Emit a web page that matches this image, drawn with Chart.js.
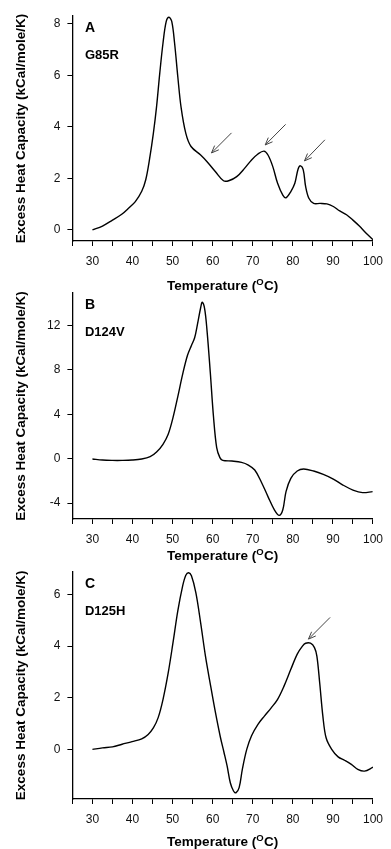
<!DOCTYPE html>
<html>
<head>
<meta charset="utf-8">
<script src="https://cdn.jsdelivr.net/npm/chart.js@4.4.0/dist/chart.umd.min.js"></script>
<style>
  body { margin: 0; background: #fff; width: 391px; height: 849px; position: relative; overflow: hidden; }
  canvas { position: absolute; left: 0; }
</style>
</head>
<body>
<canvas id="chartA" width="391" height="295" style="top:0px"></canvas>
<canvas id="chartB" width="391" height="290" style="top:277px"></canvas>
<canvas id="chartC" width="391" height="293" style="top:556px"></canvas>
<script>
// Panel A - G85R
const tempA = [30, 32.5, 35, 37.4, 39, 40.7, 42.3, 43.3, 44.2, 45.2, 46, 46.8, 47.6, 48.4, 49.1, 49.8, 50.5, 51.3, 52.1, 53.3, 54.6, 57, 58.6, 60.7, 62.7, 64, 66, 68, 69.7, 71.3, 72.8, 73.8, 75, 76.2, 77.5, 78.3, 79.5, 80.5, 81.3, 81.9, 82.6, 83.2, 84, 85.2, 86.8, 88.5, 90.1, 91.7, 93.4, 95, 96.6, 98.3, 100];
const heatA = [0, 0.15, 0.38, 0.62, 0.84, 1.1, 1.5, 1.95, 2.7, 3.75, 4.79, 6.09, 7.25, 8.09, 8.26, 8.09, 7.25, 5.95, 4.78, 3.75, 3.24, 2.91, 2.65, 2.26, 1.91, 1.91, 2.07, 2.4, 2.72, 2.95, 3.06, 2.91, 2.46, 1.81, 1.35, 1.25, 1.49, 1.81, 2.36, 2.49, 2.33, 1.68, 1.23, 1.03, 1.03, 1.01, 0.91, 0.74, 0.59, 0.38, 0.15, -0.13, -0.38];

// Panel B - D124V
const tempB = [30, 32.5, 35, 37.4, 39.9, 42.3, 44.4, 46, 47.6, 48.9, 50.1, 51.3, 52.5, 53.7, 54.7, 55.5, 56.2, 57, 57.4, 58, 58.6, 59.4, 60.2, 61, 61.8, 62.5, 64.8, 67.2, 68.9, 70.5, 72.1, 73.8, 75.4, 76.6, 77.5, 78.3, 79.5, 81.1, 82.7, 85.2, 87.6, 90.1, 92.5, 95, 97.4, 99.9];
const heatB = [-0.03, -0.12, -0.15, -0.15, -0.12, -0.03, 0.18, 0.6, 1.3, 2.2, 3.7, 5.6, 7.6, 9.3, 10.2, 10.9, 12.1, 13.6, 14.1, 13.5, 11.5, 7.8, 3.8, 1.0, 0.1, -0.15, -0.21, -0.33, -0.57, -1.02, -2.07, -3.41, -4.6, -5.1, -4.6, -2.96, -1.77, -1.11, -0.93, -1.11, -1.41, -1.83, -2.37, -2.82, -3.05, -2.96];

// Panel C - D125H
const tempC = [30, 32.5, 35, 37.4, 39.9, 42.3, 43.9, 45.2, 46.4, 47.6, 48.9, 50.1, 51.3, 52.5, 53.3, 54, 54.7, 55.8, 57, 58.2, 59.5, 60.7, 61.9, 62.8, 63.6, 64.4, 65.2, 65.8, 66.6, 67.4, 68.5, 69.7, 71.3, 72.9, 74.6, 76.2, 77.8, 79.5, 81.1, 82.4, 83.2, 84.4, 85.4, 86, 86.7, 87.5, 88.3, 89.7, 91.3, 93, 94.6, 96.2, 97.9, 100];
const heatC = [0, 0.06, 0.1, 0.2, 0.3, 0.41, 0.58, 0.83, 1.23, 1.93, 2.96, 4.13, 5.36, 6.32, 6.74, 6.84, 6.72, 6.07, 4.9, 3.61, 2.45, 1.42, 0.49, -0.1, -0.64, -1.29, -1.61, -1.68, -1.48, -0.77, 0, 0.53, 0.97, 1.29, 1.61, 1.94, 2.45, 3.1, 3.69, 4.0, 4.11, 4.11, 3.94, 3.61, 2.58, 1.28, 0.45, 0, -0.29, -0.43, -0.58, -0.77, -0.84, -0.69];

// axis ticks
const xTicks = [25, 30, 35, 40, 45, 50, 55, 60, 65, 70, 75, 80, 85, 90, 95, 100];
const xLabels = [30, 40, 50, 60, 70, 80, 90, 100];
const yTicksA = [0, 2, 4, 6, 8];
const yTicksB = [-4, 0, 4, 8, 12];
const yTicksC = [0, 2, 4, 6];

// arrows: [tailT, tailCp, tipT, tipCp]
const arrowsA = [[64.7, 3.77, 59.7, 2.99], [78.2, 4.10, 73.1, 3.30], [88.0, 3.50, 82.9, 2.68]];
const arrowsB = [];
const arrowsC = [[89.3, 5.11, 83.9, 4.27]];

Chart.defaults.font.family = 'Arial, "Liberation Sans", sans-serif';
Chart.defaults.color = '#000';

const FONT = 'Arial, "Liberation Sans", sans-serif';

//Panel letter, mutant name, arrows and x axis title with superscript O
const panelDecor = {
  id: 'panelDecor',
  afterDatasetsDraw(chart, args, opts) {
    const {ctx, chartArea, scales: {x, y}} = chart;
    ctx.save();
    ctx.fillStyle = '#000';
    ctx.textAlign = 'left';
    ctx.textBaseline = 'alphabetic';
    ctx.font = 'bold 14px ' + FONT;
    ctx.fillText(opts.letter, chartArea.left + 12.5, chartArea.top + 16.2);
    ctx.font = 'bold 13px ' + FONT;
    ctx.fillText(opts.name, chartArea.left + 12.5, chartArea.top + 43.3);

    ctx.strokeStyle = '#444';
    ctx.lineWidth = 1;
    for (const a of opts.arrows) {
      const x0 = x.getPixelForValue(a[0]), y0 = y.getPixelForValue(a[1]);
      const x1 = x.getPixelForValue(a[2]), y1 = y.getPixelForValue(a[3]);
      const ang = Math.atan2(y1 - y0, x1 - x0);
      ctx.beginPath();
      ctx.moveTo(x0, y0);
      ctx.lineTo(x1, y1);
      for (const s of [-1, 1]) {
        ctx.moveTo(x1, y1);
        ctx.lineTo(x1 - 8 * Math.cos(ang + s * 0.38), y1 - 8 * Math.sin(ang + s * 0.38));
      }
      ctx.stroke();
    }

    // x axis title
    const big = 'bold 13.5px ' + FONT;
    const small = 'bold 9.5px ' + FONT;
    const p1 = 'Temperature (', p2 = 'O', p3 = 'C)';
    ctx.font = big;
    const w1 = ctx.measureText(p1).width, w3 = ctx.measureText(p3).width;
    ctx.font = small;
    const w2 = ctx.measureText(p2).width + 0.5;
    let tx = (chartArea.left + chartArea.right) / 2 - (w1 + w2 + w3) / 2;
    const ty = chartArea.bottom + opts.titleGap;
    ctx.font = big;
    ctx.fillText(p1, tx, ty);
    ctx.font = small;
    ctx.fillText(p2, tx + w1, ty - 4.5);
    ctx.font = big;
    ctx.fillText(p3, tx + w1 + w2, ty);
    ctx.restore();
  }
};

function makePanel(id, temps, heats, yMin, yMax, yTicks, letter, name, arrows, padTop, xHeight, titleGap) {
  const points = temps.map((t, i) => ({x: t, y: heats[i]}));
  return new Chart(document.getElementById(id), {
    type: 'line',
    data: {
      datasets: [{
        data: points,
        borderColor: '#000',
        borderWidth: 1.4,
        pointRadius: 0,
        fill: false,
        tension: 0.35
      }]
    },
    options: {
      responsive: false,
      animation: false,
      layout: { padding: { top: padTop, right: 11.7, left: 0, bottom: 0 } },
      plugins: {
        legend: { display: false },
        tooltip: { enabled: false },
        panelDecor: { letter: letter, name: name, arrows: arrows, titleGap: titleGap }
      },
      scales: {
        x: {
          type: 'linear',
          min: 25,
          max: 100,
          afterBuildTicks: axis => { axis.ticks = xTicks.map(v => ({value: v})); },
          afterFit: scale => { scale.height = xHeight; },
          ticks: {
            autoSkip: false,
            maxRotation: 0,
            padding: 8,
            color: '#111',
            font: { size: 12 },
            callback: v => xLabels.includes(v) ? String(v) : ''
          },
          grid: { display: true, drawOnChartArea: false, drawTicks: true, tickLength: 5, color: '#000', lineWidth: 1 },
          border: { display: true, color: '#000', width: 1.3 }
        },
        y: {
          min: yMin,
          max: yMax,
          afterBuildTicks: axis => { axis.ticks = yTicks.map(v => ({value: v})); },
          afterFit: scale => { scale.width = 72.4; },
          ticks: { padding: 7, color: '#111', font: { size: 12 } },
          grid: { display: true, drawOnChartArea: false, drawTicks: true, tickLength: 5, color: '#000', lineWidth: 1 },
          border: { display: true, color: '#000', width: 1.3 },
          title: {
            display: true,
            text: 'Excess Heat Capacity (kCal/mole/K)',
            font: { size: 13.5, weight: 'bold' },
            color: '#000',
            padding: { top: 13.6, bottom: 0 }
          }
        }
      }
    },
    plugins: [panelDecor]
  });
}

makePanel('chartA', tempA, heatA, -0.43, 8.31, yTicksA, 'A', 'G85R', arrowsA, 16, 54, 48.9);
makePanel('chartB', tempB, heatB, -5.43, 14.93, yTicksB, 'B', 'D124V', arrowsB, 16, 48, 40.5);
makePanel('chartC', tempC, heatC, -1.92, 6.88, yTicksC, 'C', 'D125H', arrowsC, 15.7, 50, 46.5);
</script>
</body>
</html>
